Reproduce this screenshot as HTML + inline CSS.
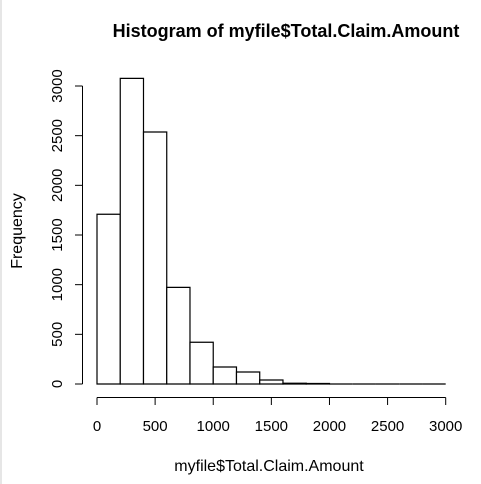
<!DOCTYPE html>
<html><head><meta charset="utf-8"><style>
body{margin:0;background:#fff}
svg{display:block;font-family:"Liberation Sans",Arial,sans-serif}
</style></head><body>
<svg width="481" height="484" viewBox="0 0 481 484">
<rect x="0" y="0" width="2" height="484" fill="#e6e6e6"/>
<text x="286" y="37" text-anchor="middle" font-size="18" font-weight="bold">Histogram of myfile$Total.Claim.Amount</text>
<text x="269" y="471" text-anchor="middle" font-size="16">myfile$Total.Claim.Amount</text>
<text transform="translate(22,231) rotate(-90)" text-anchor="middle" font-size="16">Frequency</text>
<g id="bars"></g>
<g id="xaxis"></g>
<g id="yaxis"></g>
</svg>
<script>
const binStarts=[0,200,400,600,800,1000,1200,1400,1600,1800,2000,2200,2400,2600,2800];
const counts=[1709,3077,2537,973,420,171,121,40,8,5,0,0,0,0,0];
const binWidth=200;
const xTicks=[0,500,1000,1500,2000,2500,3000];
const yTicks=[0,500,1000,1500,2000,2500,3000];
const NS="http://www.w3.org/2000/svg";
const xs=v=>97+v*(445.7-97)/3000;
const ys=v=>384-v*(384-86)/3000;
function mk(t,a,p){const e=document.createElementNS(NS,t);for(const k in a)e.setAttribute(k,a[k]);p.appendChild(e);return e;}
const bars=document.getElementById('bars');
binStarts.forEach((b,i)=>{
 const x0=xs(b),x1=xs(b+binWidth),y=ys(counts[i]);
 const r=mk('path',{d:`M${x0},384V${y}H${x1}V384Z`,fill:'#fff',stroke:'#000','stroke-width':1.2},bars);
 
 
});
const xa=document.getElementById('xaxis');
mk('line',{x1:xs(xTicks[0]),x2:xs(xTicks[xTicks.length-1]),y1:397.5,y2:397.5,stroke:'#000'},xa);
xTicks.forEach(t=>{
 mk('line',{x1:xs(t),x2:xs(t),y1:397.5,y2:405,stroke:'#000'},xa);
 const tx=mk('text',{x:xs(t),y:431,'text-anchor':'middle','font-size':15},xa);
 tx.textContent=t;
 
 
});
const ya=document.getElementById('yaxis');
mk('line',{x1:82.5,x2:82.5,y1:ys(yTicks[0]),y2:ys(yTicks[yTicks.length-1]),stroke:'#000'},ya);
yTicks.forEach(t=>{
 mk('line',{x1:75,x2:82.5,y1:ys(t),y2:ys(t),stroke:'#000'},ya);
 const tx=mk('text',{transform:`translate(62,${ys(t)}) rotate(-90)`,'text-anchor':'middle','font-size':15},ya);
 tx.textContent=t;
 
 
});
</script>
</body></html>
